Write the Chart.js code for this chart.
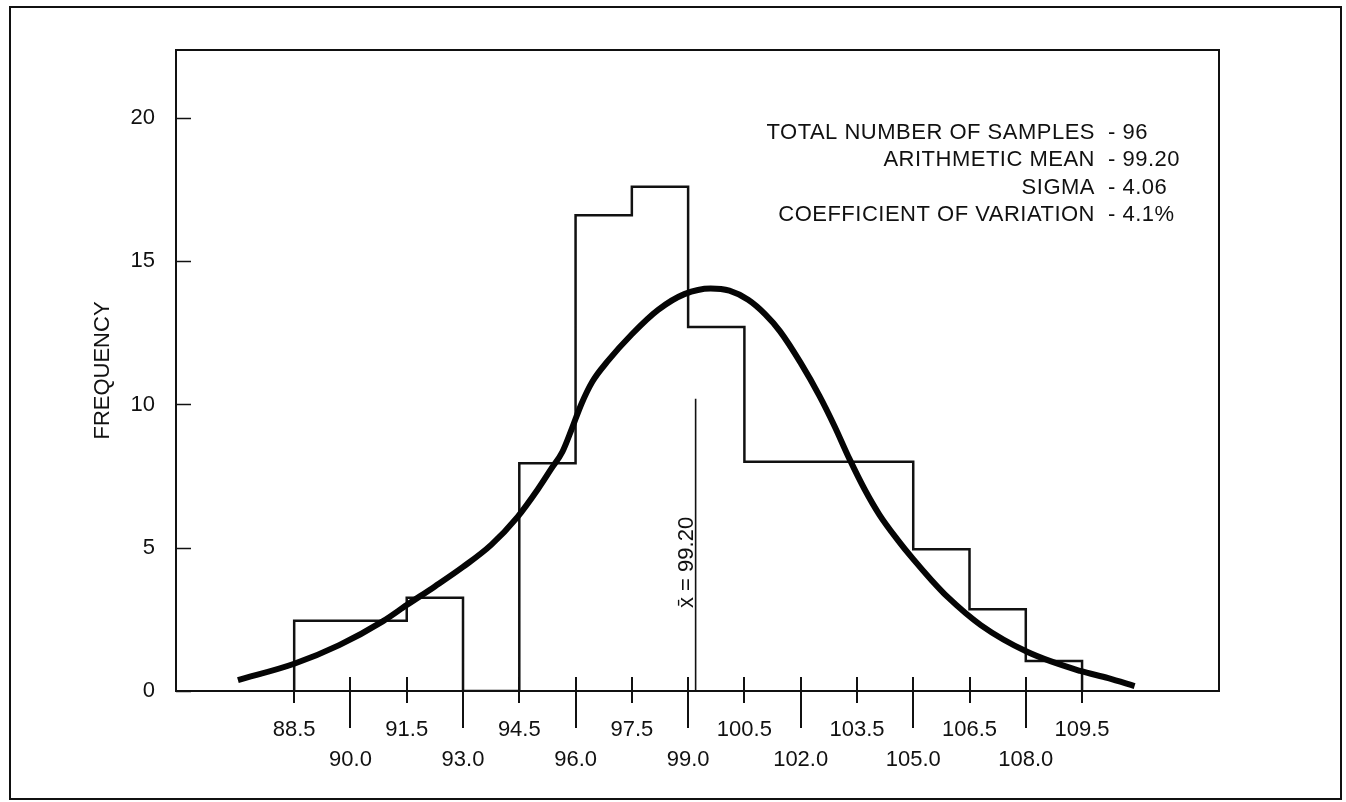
<!DOCTYPE html>
<html>
<head>
<meta charset="utf-8">
<title>Frequency distribution</title>
<script src="https://cdn.jsdelivr.net/npm/chart.js@4.4.1/dist/chart.umd.min.js"></script>
<style>
  html, body { margin: 0; padding: 0; background: #fff; }
  canvas { display: block; }
</style>
</head>
<body>
<canvas id="chart" width="1346" height="802"></canvas>
<script>
// classes are 1.5 wide, listed by their lower boundary
const classStarts = [88.5, 90.0, 91.5, 93.0, 94.5, 96.0, 97.5, 99.0, 100.5, 102.0, 103.5, 105.0, 106.5, 108.0];
const classEnd = 109.5;
const frequencies = [2.45, 2.45, 3.25, 0, 7.95, 16.6, 17.6, 12.7, 8, 8, 8, 4.95, 2.85, 1.05];

// fitted distribution curve
const curveX = [87.0, 88.5, 89.7, 90.87, 91.5, 92.25, 93.0, 93.75, 94.45, 95.0, 95.35, 95.65, 95.9, 96.15,
  96.45, 96.85, 97.5, 98.2, 98.9, 99.6, 100.1, 100.6, 101.05, 101.45, 102.0, 102.5, 102.9, 103.3,
  103.7, 104.1, 104.6, 105.0, 105.5, 105.9, 106.8, 108.05, 109.45, 110.2, 110.9];
const curveY = [0.38, 0.95, 1.6, 2.44, 3.0, 3.65, 4.33, 5.1, 6.07, 7.05, 7.75, 8.35, 9.15, 10.0,
  10.8, 11.5, 12.45, 13.3, 13.85, 14.05, 13.97, 13.65, 13.15, 12.55, 11.45, 10.3, 9.25, 8.1,
  7.05, 6.15, 5.25, 4.6, 3.85, 3.3, 2.3, 1.36, 0.7, 0.45, 0.17];

// mean marker
const meanValue = 99.2;
const meanLineTop = 10.2;

// axis ticks
const xTickValues = [88.5, 90.0, 91.5, 93.0, 94.5, 96.0, 97.5, 99.0, 100.5, 102.0, 103.5, 105.0, 106.5, 108.0, 109.5];
const xTickLabels = ['88.5', '90.0', '91.5', '93.0', '94.5', '96.0', '97.5', '99.0', '100.5', '102.0', '103.5', '105.0', '106.5', '108.0', '109.5'];
const yTickValues = [0, 5, 10, 15, 20];

// summary block
const statNames = ['TOTAL NUMBER OF SAMPLES', 'ARITHMETIC MEAN', 'SIGMA', 'COEFFICIENT OF VARIATION'];
const statValues = ['96', '99.20', '4.06', '4.1%'];

const INK = '#111';
const FONT = '"Liberation Sans", Arial, Helvetica, sans-serif';
Chart.defaults.font.family = FONT;
Chart.defaults.color = INK;

const histPoints = [{ x: classStarts[0], y: 0 }];
classStarts.forEach((x, i) => histPoints.push({ x: x, y: frequencies[i] }));
histPoints.push({ x: classEnd, y: 0 });

const curvePoints = curveX.map((x, i) => ({ x: x, y: curveY[i] }));

const paperPlugin = {
  id: 'paper',
  beforeDraw(chart) {
    const ctx = chart.ctx;
    ctx.save();
    ctx.fillStyle = '#fff';
    ctx.fillRect(0, 0, chart.width, chart.height);
    ctx.strokeStyle = INK;
    ctx.lineWidth = 2;
    ctx.strokeRect(10, 7, 1331, 792);
    ctx.restore();
  },
  afterDraw(chart) {
    const { ctx, chartArea: area, scales: { x, y } } = chart;
    ctx.save();
    ctx.strokeStyle = INK;
    ctx.lineWidth = 2;
    ctx.strokeRect(area.left, area.top, area.right - area.left, area.bottom - area.top);

    // x ticks cross the axis; the ones for the lower label row hang further down
    xTickValues.forEach((v, i) => {
      const px = Math.round(x.getPixelForValue(v));
      ctx.beginPath();
      ctx.moveTo(px, area.bottom - 14);
      ctx.lineTo(px, area.bottom + (i % 2 ? 37 : 12));
      ctx.stroke();
    });

    ctx.lineWidth = 1.5;
    yTickValues.forEach(v => {
      const py = Math.round(y.getPixelForValue(v)) + 0.5;
      ctx.beginPath();
      ctx.moveTo(area.left, py);
      ctx.lineTo(area.left + 15, py);
      ctx.stroke();
    });

    // summary block, names right aligned against the dashes
    ctx.fillStyle = INK;
    ctx.font = '22px ' + FONT;
    if ('letterSpacing' in ctx) ctx.letterSpacing = '0.5px';
    ctx.textBaseline = 'middle';
    statNames.forEach((name, i) => {
      const ty = 133 + i * 27.3;
      ctx.textAlign = 'right';
      ctx.fillText(name, 1095, ty);
      ctx.textAlign = 'left';
      ctx.fillText('- ' + statValues[i], 1108, ty);
    });
    if ('letterSpacing' in ctx) ctx.letterSpacing = '0px';

    // mean label, running up the left side of the mean line
    const mx = x.getPixelForValue(meanValue);
    ctx.font = '22px ' + FONT;
    ctx.translate(mx - 3, area.bottom - 83);
    ctx.rotate(-Math.PI / 2);
    ctx.textAlign = 'left';
    ctx.textBaseline = 'alphabetic';
    ctx.fillText('x\u0304 = ' + meanValue.toFixed(2), 0, 0);
    ctx.restore();
  }
};

const ctx = document.getElementById('chart').getContext('2d');
new Chart(ctx, {
  type: 'line',
  data: {
    datasets: [
      {
        label: 'Normal curve',
        data: curvePoints,
        borderColor: '#050505',
        borderWidth: 6,
        cubicInterpolationMode: 'monotone',
        pointRadius: 0,
        fill: false
      },
      {
        label: 'Mean',
        data: [{ x: meanValue, y: 0 }, { x: meanValue, y: meanLineTop }],
        borderColor: INK,
        borderWidth: 1.6,
        pointRadius: 0,
        fill: false
      },
      {
        label: 'Frequency',
        data: histPoints,
        borderColor: INK,
        borderWidth: 2.5,
        stepped: 'before',
        pointRadius: 0,
        fill: false
      }
    ]
  },
  options: {
    responsive: false,
    animation: false,
    devicePixelRatio: 1,
    layout: { padding: { top: 50, right: 127, bottom: 0, left: 0 } },
    plugins: {
      legend: { display: false },
      tooltip: { enabled: false }
    },
    scales: {
      x: {
        type: 'linear',
        min: 85.35,
        max: 113.15,
        afterBuildTicks: s => { s.ticks = xTickValues.map(v => ({ value: v })); },
        afterFit: s => { s.height = 111; },
        grid: { display: false },
        border: { display: false },
        ticks: {
          autoSkip: false,
          maxRotation: 0,
          padding: 16,
          color: INK,
          font: { size: 22, lineHeight: 30 / 22 },
          callback: (v, i) => (i % 2 ? ['', xTickLabels[i]] : [xTickLabels[i], ''])
        }
      },
      y: {
        type: 'linear',
        min: 0,
        max: 22.37,
        afterBuildTicks: s => { s.ticks = yTickValues.map(v => ({ value: v })); },
        afterFit: s => { s.width = 176; },
        grid: { display: false },
        border: { display: false },
        ticks: { padding: 13, color: INK, font: { size: 22 } },
        title: {
          display: true,
          text: 'FREQUENCY',
          color: INK,
          font: { size: 22 },
          padding: { top: 90, bottom: 0 }
        }
      }
    }
  },
  plugins: [paperPlugin]
});
</script>
</body>
</html>
